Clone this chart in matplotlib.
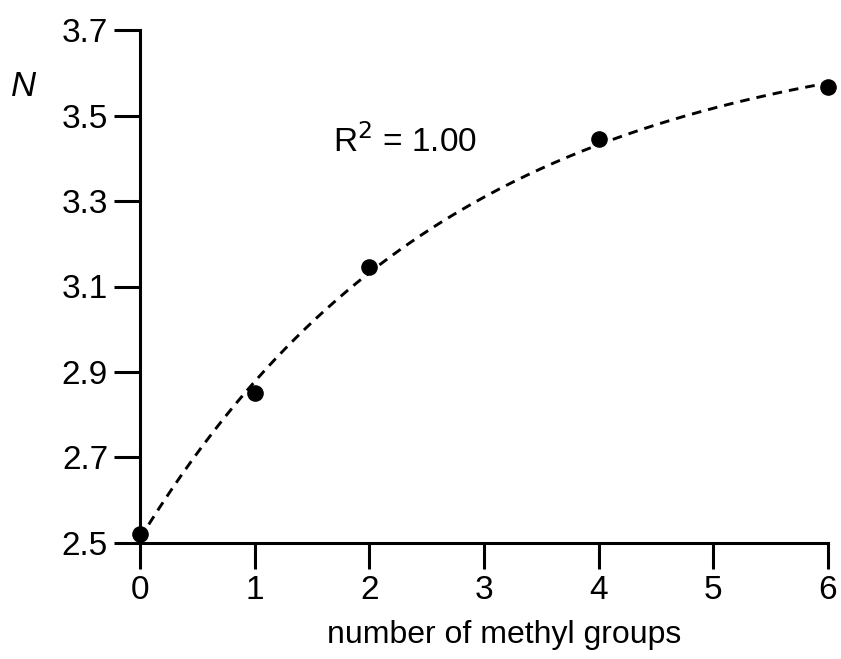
import numpy as np
import matplotlib
matplotlib.use("Agg")
import matplotlib.pyplot as plt

plt.rcParams["font.family"] = ["Liberation Sans", "DejaVu Sans"]

# data
methyl_groups = [0, 1, 2, 4, 6]
n_values = [2.52, 2.852, 3.145, 3.445, 3.566]
x_ticks = [0, 1, 2, 3, 4, 5, 6]
y_ticks = [2.5, 2.7, 2.9, 3.1, 3.3, 3.5, 3.7]


def fit_exp(x, y):
    # y = a - b*exp(-k x), grid over k, linear least squares for a, b
    x = np.asarray(x, float)
    y = np.asarray(y, float)
    best = None
    for k in np.linspace(0.05, 2.0, 2000):
        A = np.column_stack([np.ones_like(x), -np.exp(-k * x)])
        coef, res, _, _ = np.linalg.lstsq(A, y, rcond=None)
        err = np.sum((A @ coef - y) ** 2)
        if best is None or err < best[0]:
            best = (err, coef[0], coef[1], k)
    return best[1:]


a, b, k = fit_exp(methyl_groups, n_values)
xs = np.linspace(0, 6, 200)
ys = a - b * np.exp(-k * xs)

fig = plt.figure(figsize=(8.41, 6.59), dpi=100)
ax = fig.add_axes([140 / 841, 1 - 543 / 659, 688 / 841, 513 / 659])

ax.plot(xs, ys, color="black", linestyle=(0, (3.3, 2.4)), linewidth=2.1)
ax.scatter(methyl_groups, n_values, s=120, color="black", zorder=3, clip_on=False)

ax.set_xlim(0, 6)
ax.set_ylim(2.5, 3.7)
ax.set_xticks(x_ticks)
ax.set_yticks(y_ticks)
ax.set_yticklabels([f"{v:.1f}" for v in y_ticks])
for side in ["top", "right"]:
    ax.spines[side].set_visible(False)
for side in ["left", "bottom"]:
    ax.spines[side].set_linewidth(2.2)
ax.tick_params(direction="out", length=19, width=2.2, labelsize=24, pad=4)

ax.set_xlabel("number of methyl groups", fontsize=23)
ax.xaxis.set_label_coords(0.529, -0.150)
fig.text(24 / 841, 1 - 86 / 659, "N", fontsize=25, style="italic",
         ha="center", va="center")
ax.text(1.68, 3.44, r"R$^2$ = 1.00", fontsize=24, ha="left", va="center")

fig.savefig("out.png", dpi=100)
